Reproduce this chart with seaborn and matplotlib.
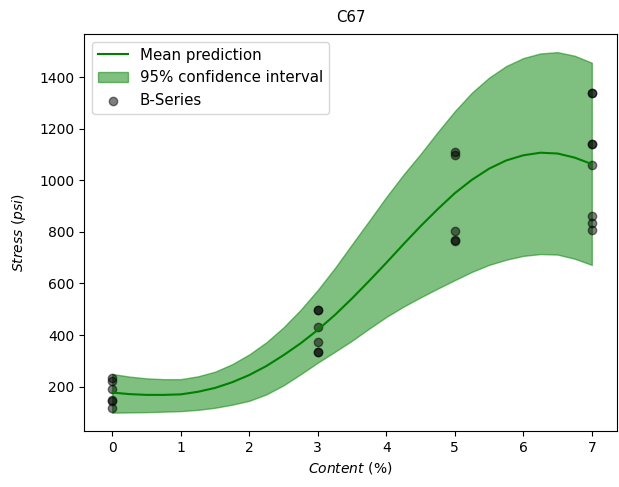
import numpy as np
import pandas as pd
import matplotlib
matplotlib.use("Agg")
import matplotlib.pyplot as plt
import seaborn as sns

content_obs = [0, 0, 0, 0, 0, 0,
               3, 3, 3, 3, 3, 3,
               5, 5, 5, 5, 5,
               7, 7, 7, 7, 7, 7, 7, 7]
stress_obs = [232, 220, 190, 150, 145, 117,
              497, 497, 430, 374, 336, 336,
              1110, 1100, 805, 768, 765,
              1337, 1337, 1140, 1140, 1058, 863, 833, 807]

# prediction curve and 95% band, read at 0.25 steps
content_grid = [0, 0.25, 0.5, 0.75, 1, 1.25, 1.5, 1.75, 2, 2.25, 2.5, 2.75,
                3, 3.25, 3.5, 3.75, 4, 4.25, 4.5, 4.75, 5, 5.25, 5.5, 5.75,
                6, 6.25, 6.5, 6.75, 7]
mean_pred = [177, 171, 168, 168, 170, 180, 195, 217, 245, 280, 322, 368,
             420, 478, 542, 610, 680, 752, 822, 888, 950, 1002, 1045, 1077,
             1097, 1107, 1104, 1088, 1063]
upper_ci = [249, 239, 232, 229, 229, 240, 258, 287, 325, 372, 430, 498,
            575, 660, 752, 843, 935, 1022, 1102, 1187, 1268, 1340, 1398, 1443,
            1474, 1492, 1497, 1483, 1456]
lower_ci = [99, 100, 101, 103, 105, 110, 118, 130, 145, 170, 205, 248,
            293, 335, 378, 425, 470, 510, 546, 580, 613, 645, 672, 692,
            707, 714, 712, 696, 672]

df_obs = pd.DataFrame({'Content': content_obs, 'Stress': stress_obs})
df_pred = pd.DataFrame({'Content': content_grid, 'Mean': mean_pred,
                        'Lower': lower_ci, 'Upper': upper_ci})

fig = plt.figure(figsize=(6.19, 4.87), dpi=100)
ax = fig.add_axes([0.136, 0.115, 0.861, 0.815])

# mean line
sns.lineplot(data=df_pred, x='Content', y='Mean', color='green',
             label='Mean prediction', ax=ax)
# confidence band
ax.fill_between(df_pred['Content'], df_pred['Lower'], df_pred['Upper'],
                color='green', alpha=0.5, label='95% confidence interval',
                linewidth=1)
# data points
sns.scatterplot(data=df_obs, x='Content', y='Stress', color='black',
                alpha=0.5, s=36, edgecolor='black', linewidth=1,
                label='B-Series', ax=ax)

ax.set_xlim(-0.41, 7.37)
ax.set_ylim(28, 1567)
ax.set_xlabel('$Content$ (%)')
ax.set_ylabel('$Stress$ $(psi)$', labelpad=8)
ax.set_title('C67', fontsize=10.8, pad=9)
ax.legend(loc='upper left', fontsize=10.8)

fig.savefig('out.png', dpi=100)
